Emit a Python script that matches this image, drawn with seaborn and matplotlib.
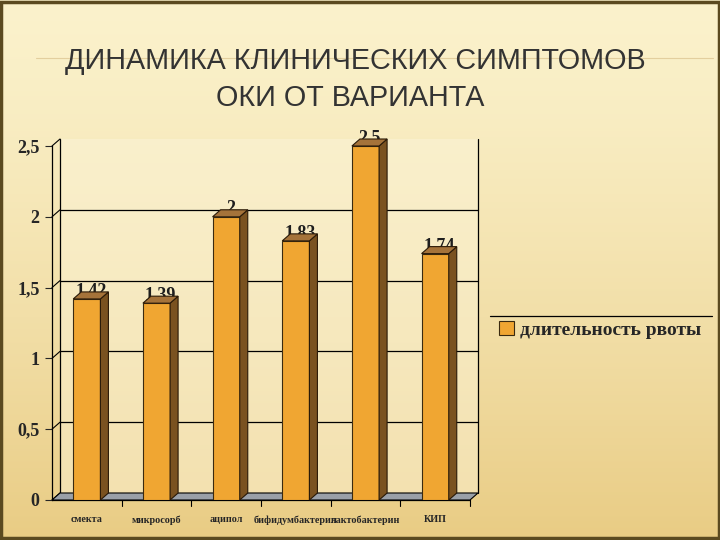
import numpy as np
import pandas as pd
import seaborn as sns
import matplotlib
matplotlib.use("Agg")
from matplotlib import pyplot as plt
from matplotlib.patches import Polygon, Rectangle, Patch
from matplotlib.lines import Line2D

# data
categories = ["смекта", "микросорб", "аципол", "бифидумбактерин", "лактобактерин", "КИП"]
values = [1.42, 1.39, 2.0, 1.83, 2.5, 1.74]
value_labels = ["1,42", "1,39", "2", "1,83", "2,5", "1,74"]
y_ticks = [0, 0.5, 1, 1.5, 2, 2.5]
y_tick_labels = ["0", "0,5", "1", "1,5", "2", "2,5"]
series_name = "длительность рвоты"

df = pd.DataFrame({"cat": categories, "val": values})

sns.set_style("white")
plt.rcParams["font.family"] = ["Liberation Serif", "DejaVu Serif"]

fig = plt.figure(figsize=(7.2, 5.4), dpi=100)
W, H = 720, 540

# slide background: vertical cream gradient
bg = fig.add_axes([0, 0, 1, 1], zorder=-10)
grad = np.linspace(0, 1, 256).reshape(-1, 1)
c_top = np.array([251, 242, 204]) / 255
c_bot = np.array([233, 204, 132]) / 255
img = c_top + (c_bot - c_top) * grad[..., None] ** 1.3
bg.imshow(img, aspect="auto", extent=[0, 1, 0, 1])
bg.add_patch(Rectangle((0.002, 0.003), 0.996, 0.994, fill=False, ec="#5b4a20", lw=2.5))
bg.plot([0.05, 0.99], [1 - 58 / H, 1 - 58 / H], color="#e3cf9e", lw=0.8)
bg.set_xlim(0, 1)
bg.set_ylim(0, 1)
bg.axis("off")

# title
title_font = ["Liberation Sans", "DejaVu Sans"]
fig.text(0.493, 1 - 61 / H, "ДИНАМИКА КЛИНИЧЕСКИХ СИМПТОМОВ", ha="center", va="center",
         fontsize=20.7, color="#333333", family=title_font)
fig.text(0.487, 1 - 98 / H, "ОКИ ОТ ВАРИАНТА", ha="center", va="center",
         fontsize=20.7, color="#333333", family=title_font)

# front plane of the 3D chart
left, right, bottom, top = 52, 470, 500, 146
ax = fig.add_axes([left / W, 1 - bottom / H, (right - left) / W, (bottom - top) / H])
ax.patch.set_alpha(0)

sns.barplot(data=df, x="cat", y="val", color="#f0a632", width=0.39, ax=ax,
            edgecolor="#3a2a10", linewidth=0.8, saturation=1, zorder=5)
ax.set_ylim(0, 2.5)
ax.set_xlim(-0.5, len(categories) - 0.5)
ax.set_yticks(y_ticks)
ax.set_yticklabels(y_tick_labels, fontsize=13, fontweight="bold")
ax.set_xticks(range(len(categories)))
ax.set_xticklabels(categories, fontsize=7.3, fontweight="bold")
ax.tick_params(axis="x", length=0, pad=11)
ax.tick_params(axis="y", length=5, width=0.8, direction="out", pad=4, left=True)
ax.set_xlabel("")
ax.set_ylabel("")
for s in ["top", "right", "bottom"]:
    ax.spines[s].set_visible(False)
ax.spines["left"].set_color("black")
ax.spines["left"].set_linewidth(0.9)

fig.canvas.draw()
dx, dy = 8, 7  # depth in pixels
to_pix = ax.transData.transform


def pix_to_fig(pts):
    return [(x / W, y / H) for x, y in pts]


# back wall, floor and gridlines (pixel coords, origin bottom-left)
x0, y0 = to_pix((-0.5, 0))
x1, y1 = to_pix((len(categories) - 0.5, 2.5))
wall = [(x0 + dx, y0 + dy), (x1 + dx, y0 + dy), (x1 + dx, y1 + dy), (x0 + dx, y1 + dy)]
fig.patches.append(Polygon(pix_to_fig(wall), closed=True, transform=fig.transFigure,
                           fc="#fdf6dc", alpha=0.45, ec="none", zorder=0))
floor = [(x0, y0), (x1, y0), (x1 + dx, y0 + dy), (x0 + dx, y0 + dy)]
fig.patches.append(Polygon(pix_to_fig(floor), closed=True, transform=fig.transFigure,
                           fc="#9aa0a8", ec="black", lw=0.8, zorder=1))
for v in y_ticks[1:-1]:
    _, yy = to_pix((0, v))
    fig.lines.append(Line2D([(x0 + dx) / W, (x1 + dx) / W], [(yy + dy) / H] * 2,
                            transform=fig.transFigure, color="black", lw=0.9, zorder=1))
for v in y_ticks:
    _, yy = to_pix((0, v))
    fig.lines.append(Line2D([x0 / W, (x0 + dx) / W], [yy / H, (yy + dy) / H],
                            transform=fig.transFigure, color="black", lw=0.8, zorder=1))
for xx in (x0 + dx, x1 + dx):
    fig.lines.append(Line2D([xx / W, xx / W], [(y0 + dy) / H, (y1 + dy) / H],
                            transform=fig.transFigure, color="black", lw=0.9, zorder=1))
fig.lines.append(Line2D([x0 / W, x1 / W], [y0 / H, y0 / H],
                        transform=fig.transFigure, color="black", lw=0.9, zorder=1))
for i in range(1, len(categories) + 1):
    xx, _ = to_pix((i - 0.5, 0))
    fig.lines.append(Line2D([xx / W, xx / W], [y0 / H, (y0 - 6) / H],
                            transform=fig.transFigure, color="black", lw=0.8, zorder=1))

# 3D side and top faces for each bar, plus value labels
for bar, lab in zip(ax.patches, value_labels):
    bx, bh, bw = bar.get_x(), bar.get_height(), bar.get_width()
    pl, pb = to_pix((bx, 0))
    pr, pt = to_pix((bx + bw, bh))
    side = [(pr, pb), (pr + dx, pb + dy), (pr + dx, pt + dy), (pr, pt)]
    topf = [(pl, pt), (pr, pt), (pr + dx, pt + dy), (pl + dx, pt + dy)]
    fig.patches.append(Polygon(pix_to_fig(side), closed=True, transform=fig.transFigure,
                               fc="#7a5220", ec="#2a1a08", lw=0.8, zorder=3))
    fig.patches.append(Polygon(pix_to_fig(topf), closed=True, transform=fig.transFigure,
                               fc="#a5733a", ec="#2a1a08", lw=0.8, zorder=3))
    ax.annotate(lab, (bx + bw / 2, bh), xytext=(3, 6), textcoords="offset points",
                ha="center", va="center", fontsize=13, fontweight="bold", color="#1e1e1e",
                zorder=10)
ax.set_zorder(2)

# legend on the right
fig.lines.append(Line2D([490 / W, 712 / W], [1 - 316 / H] * 2, transform=fig.transFigure,
                        color="black", lw=0.9))
fig.legend([Patch(fc="#f0a632", ec="#3a2a10", lw=0.8)], [series_name],
           loc="center left", bbox_to_anchor=(482 / W, 1 - 330 / H), frameon=False,
           prop={"family": ["Liberation Serif"], "weight": "bold", "size": 14},
           handlelength=0.75, handleheight=0.75, handletextpad=0.3)

fig.savefig("out.png", dpi=100)
